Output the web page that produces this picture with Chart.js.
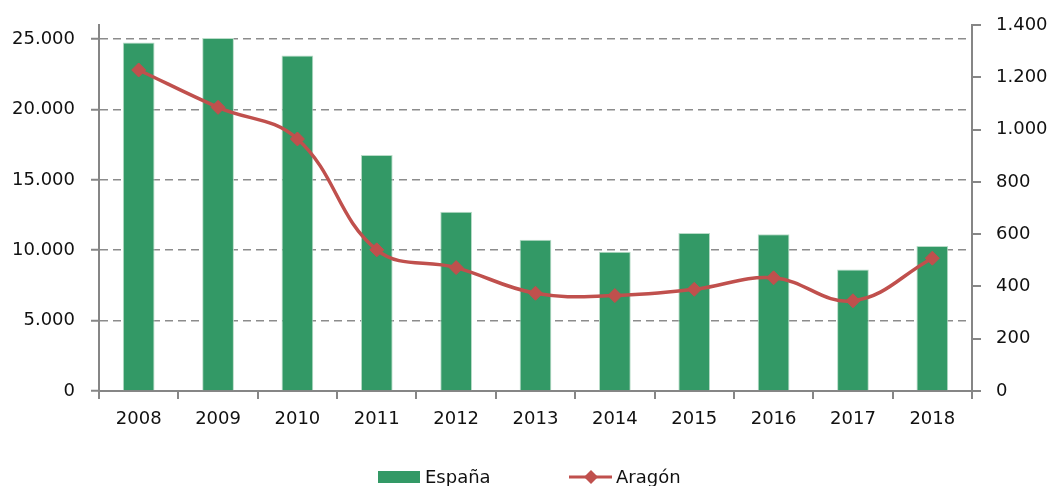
<!DOCTYPE html>
<html>
<head>
<meta charset="utf-8">
<script src="https://cdn.jsdelivr.net/npm/chart.js@4.4.1/dist/chart.umd.min.js"></script>
<style>
    html, body { margin: 0; padding: 0; background: #fff; }
    #wrap { width: 1052px; height: 486px; }
</style>
</head>
<body>
<div id="wrap"><canvas id="statsChart"></canvas></div>
<script>
// ----- DATA -----
const years = ["2008", "2009", "2010", "2011", "2012", "2013", "2014", "2015", "2016", "2017", "2018"];
const espana = [24760, 25070, 23840, 16760, 12730, 10750, 9900, 11230, 11130, 8640, 10300];
const aragon = [1228, 1085, 964, 540, 472, 374, 365, 389, 433, 345, 508];
const leftTicks = [0, 5000, 10000, 15000, 20000, 25000];
const rightTicks = [0, 200, 400, 600, 800, 1000, 1200, 1400];

const GREEN = "#339966";
const RED = "#C0504D";
const AXIS = "#868686";
const FONT = "DejaVu Sans";

function fmt(v) {
    return String(v).replace(/\B(?=(\d{3})+(?!\d))/g, ".");
}

// ----- LEGEND (drawn by hand under the axis) -----
const legendPlugin = {
    id: "bottomLegend",
    afterDraw(chart) {
        const c = chart.ctx;
        c.save();
        c.font = "18px " + FONT;
        c.textBaseline = "alphabetic";

        c.fillStyle = GREEN;
        c.fillRect(378, 471, 42, 12);
        c.fillStyle = "#111";
        c.fillText("España", 425, 483);

        c.strokeStyle = RED;
        c.lineWidth = 3;
        c.beginPath();
        c.moveTo(569, 477);
        c.lineTo(612, 477);
        c.stroke();
        c.fillStyle = RED;
        c.beginPath();
        c.moveTo(591, 470);
        c.lineTo(598, 477);
        c.lineTo(591, 484);
        c.lineTo(584, 477);
        c.closePath();
        c.fill();
        c.fillStyle = "#111";
        c.fillText("Aragón", 616, 483);
        c.restore();
    }
};

// ----- CHART -----
const ctx = document.getElementById("statsChart").getContext("2d");

new Chart(ctx, {
    type: "bar",
    data: {
        labels: years,
        datasets: [{
            type: "line",
            label: "Aragón",
            data: aragon,
            yAxisID: "y2",
            borderColor: RED,
            backgroundColor: RED,
            borderWidth: 3.5,
            tension: 0.4,
            pointStyle: "rectRot",
            pointRadius: 7,
            pointBorderWidth: 1,
            pointBackgroundColor: RED,
            pointBorderColor: RED,
            order: 0
        }, {
            label: "España",
            data: espana,
            yAxisID: "y",
            backgroundColor: GREEN,
            borderColor: "#b9dcc8",
            borderWidth: 1,
            barPercentage: 0.4,
            categoryPercentage: 1.0,
            order: 1
        }]
    },
    options: {
        responsive: true,
        maintainAspectRatio: false,
        animation: false,
        layout: { padding: { top: 25, left: 0, right: 0, bottom: 0 } },
        plugins: {
            legend: { display: false },
            tooltip: { enabled: false }
        },
        scales: {
            x: {
                offset: true,
                grid: {
                    offset: true,
                    drawOnChartArea: false,
                    color: AXIS,
                    lineWidth: 2,
                    tickLength: 8
                },
                border: { color: AXIS, width: 2 },
                ticks: {
                    color: "#111",
                    font: { family: FONT, size: 18 },
                    padding: 10,
                    maxRotation: 0
                },
                afterFit(scale) {
                    scale.height = 95;
                    scale.paddingLeft = 0;
                    scale.paddingRight = 0;
                }
            },
            y: {
                position: "left",
                min: 0,
                max: 26000,
                afterBuildTicks(scale) {
                    scale.ticks = leftTicks.map(v => ({ value: v }));
                },
                grid: {
                    color: c => (c.tick && c.tick.value === 0) ? "rgba(0,0,0,0)" : "#8c8c8c",
                    lineWidth: 1.5,
                    tickColor: AXIS,
                    tickWidth: 2,
                    tickLength: 8,
                    tickBorderDash: []
                },
                border: { color: AXIS, width: 2, dash: [8, 5] },
                ticks: {
                    color: "#111",
                    font: { family: FONT, size: 18 },
                    padding: 16,
                    callback: v => fmt(v)
                },
                afterFit(scale) {
                    scale.width = 99;
                    scale.paddingTop = 0;
                    scale.paddingBottom = 0;
                }
            },
            y2: {
                position: "right",
                min: 0,
                max: 1400,
                afterBuildTicks(scale) {
                    scale.ticks = rightTicks.map(v => ({ value: v }));
                },
                grid: {
                    drawOnChartArea: false,
                    color: AXIS,
                    lineWidth: 2,
                    tickLength: 9
                },
                border: { color: AXIS, width: 2 },
                ticks: {
                    color: "#111",
                    font: { family: FONT, size: 18 },
                    padding: 15,
                    callback: v => fmt(v)
                },
                afterFit(scale) {
                    scale.width = 80;
                    scale.paddingTop = 0;
                    scale.paddingBottom = 0;
                }
            }
        }
    },
    plugins: [legendPlugin]
});
</script>
</body>
</html>
